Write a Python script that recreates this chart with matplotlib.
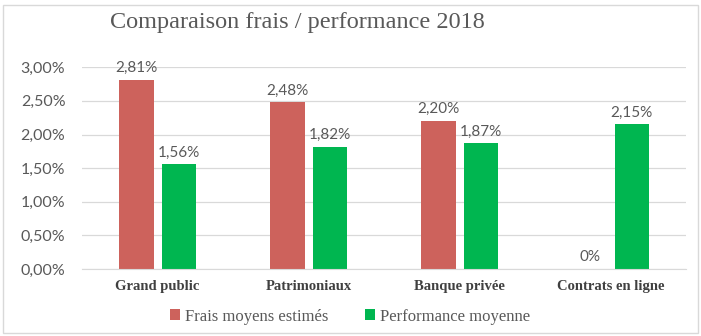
import matplotlib.pyplot as plt
from matplotlib.patches import Rectangle
from matplotlib.font_manager import FontProperties
import numpy as np

categories = ["Grand public", "Patrimoniaux", "Banque privée", "Contrats en ligne"]
frais = [2.81, 2.48, 2.20, 0.0]
performance = [1.56, 1.82, 1.87, 2.15]
frais_labels = ["2,81%", "2,48%", "2,20%", "0%"]
perf_labels = ["1,56%", "1,82%", "1,87%", "2,15%"]
yticks = [0, 0.5, 1.0, 1.5, 2.0, 2.5, 3.0]
ytick_labels = ["0,00%", "0,50%", "1,00%", "1,50%", "2,00%", "2,50%", "3,00%"]

red = "#CD625C"
green = "#00B650"
grey = "#595959"

fig = plt.figure(figsize=(7.01, 3.36), dpi=100)
ax = fig.add_axes([0.117, 0.199, 0.862, 0.601])

x = np.arange(len(categories))
w = 0.227
off = 0.14
ax.bar(x - off, frais, w, color=red, label="Frais moyens estimés")
ax.bar(x + off, performance, w, color=green, label="Performance moyenne")

for i in range(len(categories)):
    ax.text(x[i] - off, frais[i] + 0.07, frais_labels[i], ha="center", va="bottom",
            fontsize=11, color=grey, family="Lato")
    ax.text(x[i] + off, performance[i] + 0.07, perf_labels[i], ha="center", va="bottom",
            fontsize=11, color=grey, family="Lato")

ax.set_xlim(-0.5, len(categories) - 0.5)
ax.set_ylim(0, 3.0)
ax.set_yticks(yticks)
ax.set_yticklabels(ytick_labels, fontsize=11.5, color=grey, family="Lato")
ax.set_xticks(x)
ax.set_xticklabels(categories, fontsize=10.5, fontweight="bold", color="#404040",
                   family="Liberation Serif")
ax.tick_params(length=0)
ax.tick_params(axis="y", pad=12)
ax.tick_params(axis="x", pad=8)
ax.grid(axis="y", color="#D9D9D9", linewidth=0.9)
ax.set_axisbelow(True)
for s in ["top", "right", "left"]:
    ax.spines[s].set_visible(False)
ax.spines["bottom"].set_color("#D9D9D9")

fig.text(0.157, 0.932, "Comparaison frais / performance 2018", fontsize=17.5,
         color=grey, family="Liberation Serif", va="center")

leg_font = FontProperties(family="Liberation Serif", size=12)
leg = fig.legend(loc="center", bbox_to_anchor=(0.5, 0.058), ncol=2, frameon=False,
                 prop=leg_font, handlelength=0.6, handleheight=0.6,
                 handletextpad=0.3, columnspacing=2.2)
for t in leg.get_texts():
    t.set_color(grey)
    t.set_fontproperties(leg_font)

fig.patches.append(Rectangle((0.004, 0.01), 0.992, 0.975, transform=fig.transFigure,
                             fill=False, edgecolor="#D9D9D9", linewidth=1))

fig.savefig("out.png", dpi=100)
